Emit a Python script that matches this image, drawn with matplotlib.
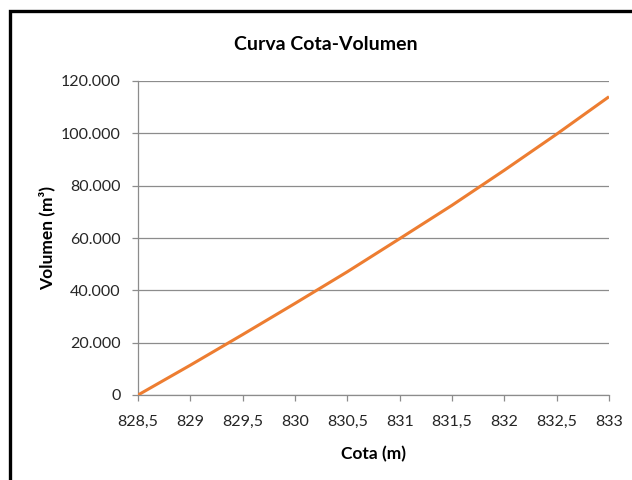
import matplotlib
matplotlib.use("Agg")
import matplotlib.pyplot as plt
from matplotlib.patches import Rectangle
from matplotlib.ticker import FixedLocator, FuncFormatter

# Elevation (m) and stored volume (m3)
cota = [828.5, 829.0, 829.5, 830.0, 830.5, 831.0, 831.5, 832.0, 832.5, 833.0]
volumen = [0, 11400, 23100, 35000, 47100, 59750, 72500, 85900, 99700, 114000]

x_ticks = [828.5, 829.0, 829.5, 830.0, 830.5, 831.0, 831.5, 832.0, 832.5, 833.0]
y_ticks = [0, 20000, 40000, 60000, 80000, 100000, 120000]

plt.rcParams['font.family'] = ['Lato', 'DejaVu Sans']

fig = plt.figure(figsize=(6.32, 4.8), dpi=100)
W, H = 632, 480
ax = fig.add_axes([138 / W, (H - 395) / H, (609 - 138) / W, (395 - 81) / H])

ax.plot(cota, volumen, color='#ED7D31', lw=2.2, solid_capstyle='butt', zorder=3)

ax.set_xlim(828.5, 833)
ax.set_ylim(0, 120000)
ax.xaxis.set_major_locator(FixedLocator(x_ticks))
ax.yaxis.set_major_locator(FixedLocator(y_ticks))


def fmt_x(v, pos):
    s = f"{v:.1f}".rstrip('0').rstrip('.')
    return s.replace('.', ',')


def fmt_y(v, pos):
    return f"{int(round(v)):,}".replace(',', '.')


ax.xaxis.set_major_formatter(FuncFormatter(fmt_x))
ax.yaxis.set_major_formatter(FuncFormatter(fmt_y))

ax.grid(axis='y', color='#8c8c8c', lw=0.9)
ax.set_axisbelow(True)
for side in ('top', 'right'):
    ax.spines[side].set_visible(False)
for side in ('left', 'bottom'):
    ax.spines[side].set_color('#8c8c8c')
    ax.spines[side].set_linewidth(0.9)

ax.tick_params(axis='both', direction='out', length=4.5, width=0.9,
               color='#8c8c8c', labelsize=11.5, labelcolor='#262626')
ax.tick_params(axis='x', pad=10)
ax.tick_params(axis='y', pad=8)

ax.set_xlabel('Cota (m)', fontsize=12.5, fontweight='bold', labelpad=12)
ax.set_ylabel('Volumen (m³)', fontsize=12.5, fontweight='bold', labelpad=4)
fig.text(326 / W, 1 - 45 / H, 'Curva Cota-Volumen', ha='center', va='center',
         fontsize=14, fontweight='bold')

# Chart frame
fig.patches.append(Rectangle((9.5 / W, -0.1), 1.2, 1 - 11 / H + 0.1,
                             transform=fig.transFigure, fill=False,
                             edgecolor='black', lw=2.4))

fig.savefig('out.png', dpi=100)
